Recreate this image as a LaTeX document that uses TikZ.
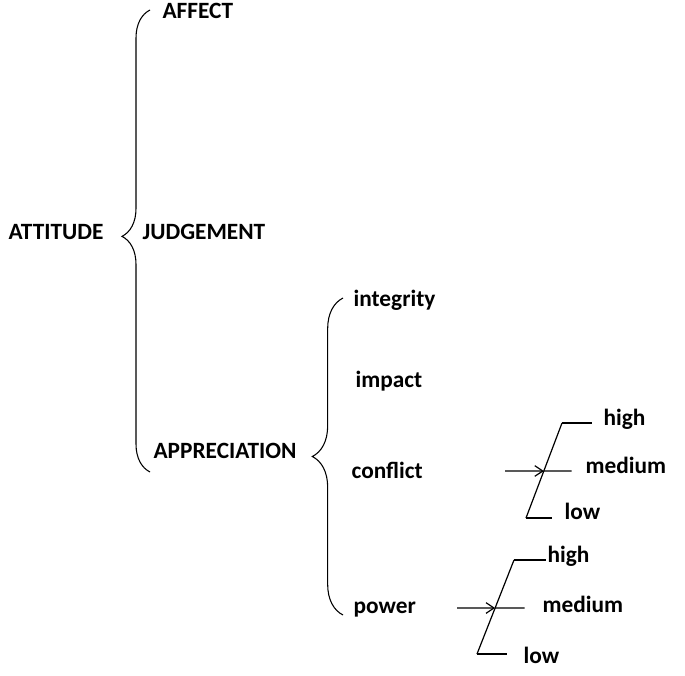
\documentclass[tikz,border=0pt]{standalone}
\usepackage{fontspec}
\setmainfont{Carlito}
\usetikzlibrary{decorations.pathreplacing,arrows.meta}

\tikzset{
	lbl/.style={font=\fontsize{17.5}{21}\selectfont\bfseries, inner sep=0pt, anchor=base west},
	brc/.style={decorate, decoration={brace, amplitude=#1}, line width=0.8pt},
}

\begin{document}
\begin{tikzpicture}[x=0.75pt, y=-0.75pt, line width=0.9pt, >={Straight Barb[length=6pt,width=8pt]}]
		\useasboundingbox (0,0) rectangle (685,675);

		\node[lbl] at (8,239) (att) {ATTITUDE};
		\node[lbl] at (162,18) (aff) {AFFECT};
		\node[lbl] at (142,239) (jud) {JUDGEMENT};
		\node[lbl] at (153,458) (app) {APPRECIATION};
		\coordinate (b1s) at (150,472);
		\coordinate (b1e) at (150,10);
		\draw[brc=21pt, decoration={aspect=0.51}] (b1s) -- (b1e);

		\node[lbl] at (353,306) (int) {integrity};
		\node[lbl] at (355,387) (imp) {impact};
		\node[lbl] at (351,478) (con) {conflict};
		\node[lbl] at (353,613) (pow) {power};
		\coordinate (b2s) at (343,615);
		\coordinate (b2e) at (343,298);
		\draw[brc=23pt] (b2s) -- (b2e);

		% conflict
		\node[lbl] at (603,425) (chigh) {high};
		\node[lbl] at (585,473) (cmed) {medium};
		\node[lbl] at (564,519) (clow) {low};
		\coordinate (cca) at (505,471);
		\coordinate (ccm) at (572,471);
		\coordinate (cch) at (562,423);
		\coordinate (ccl) at (526,518);
		\coordinate (ccx) at (intersection of cca--ccm and ccl--cch);
		\draw (ccl) -- (cch);
		\draw[shorten >=8pt] (cch) -- (cch -| chigh.west);
		\draw[shorten >=9pt] (ccl) -- (ccl -| clow.west);
		\draw[->] (cca) -- (ccx);
		\draw[shorten >=10pt] (ccx) -- (ccm -| cmed.west);

		% power
		\node[lbl] at (547,562) (phigh) {high};
		\node[lbl] at (542,612) (pmed) {medium};
		\node[lbl] at (523,663) (plow) {low};
		\coordinate (pca) at (457,608);
		\coordinate (pcm) at (525,608);
		\coordinate (pch) at (514,560);
		\coordinate (pcl) at (477,654);
		\coordinate (pcx) at (intersection of pca--pcm and pcl--pch);
		\draw (pcl) -- (pch);
		\draw[shorten >=1pt] (pch) -- (pch -| phigh.west);
		\draw[shorten >=12pt] (pcl) -- (pcl -| plow.west);
		\draw[->] (pca) -- (pcx);
		\draw[shorten >=13pt] (pcx) -- (pcm -| pmed.west);
	\end{tikzpicture}
\end{document}
